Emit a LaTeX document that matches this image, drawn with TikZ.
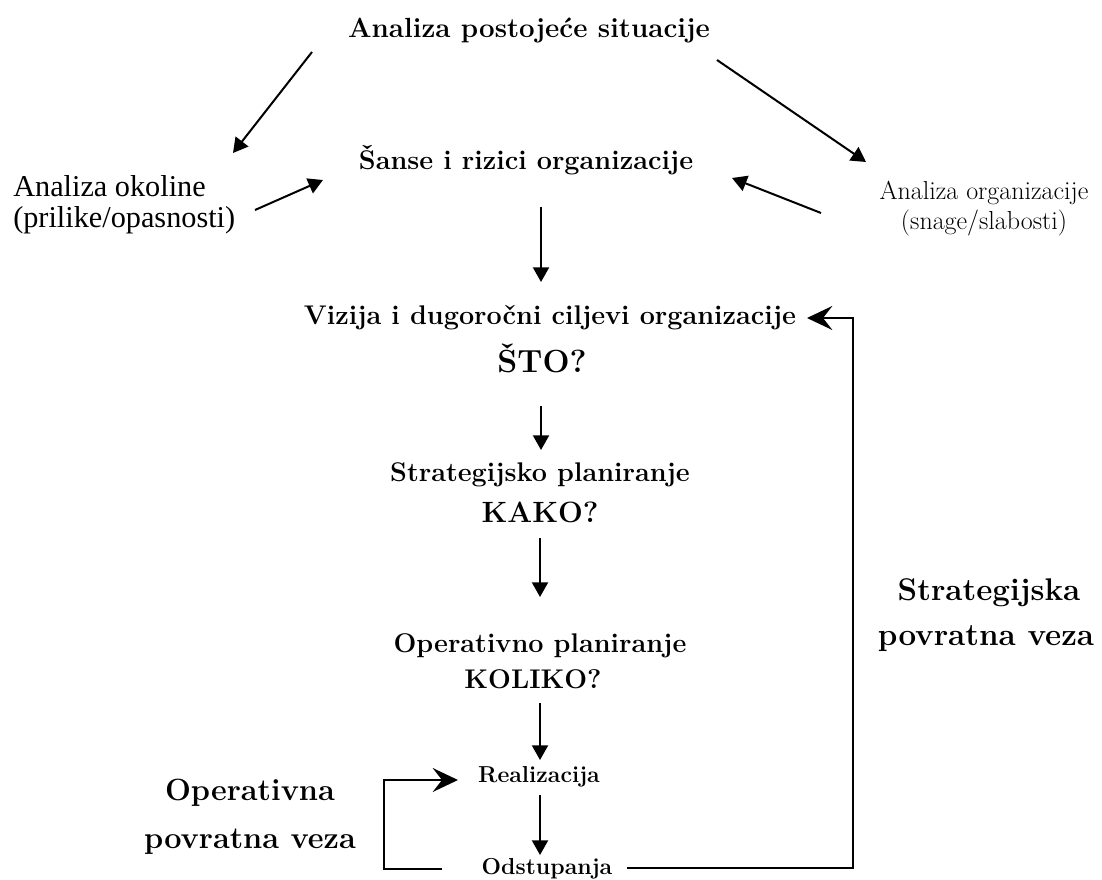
\documentclass[tikz,border=0pt]{standalone}
\usepackage{fontspec}
\newfontfamily\timesfam{Liberation Serif}
\usetikzlibrary{arrows.meta,calc}
\newcommand{\fsz}[1]{\fontsize{#1}{1.2\dimexpr#1\relax}\selectfont}
\begin{document}
\begin{tikzpicture}[x=0.75pt,y=-0.75pt,
  lbl/.style={inner sep=0pt,anchor=base},
  bodyb/.style={lbl,font=\fsz{20.25pt}\bfseries},
  titleb/.style={lbl,font=\fsz{20.8pt}\bfseries},
  stob/.style={lbl,font=\fsz{24pt}\bfseries},
  kakob/.style={lbl,font=\fsz{22pt}\bfseries},
  smallb/.style={lbl,font=\fsz{17.3pt}\bfseries},
  regl/.style={lbl,font=\timesfam\fsz{22.7pt}},
  smallr/.style={lbl,font=\fsz{19.5pt}},
  sfbl/.style={lbl,font=\fsz{23.5pt}\bfseries},
  ofbl/.style={lbl,font=\fsz{23pt}\bfseries},
  arr/.style={line width=1.5pt,-{Triangle[length=11pt,width=12pt]}},
  fb/.style={line width=1.5pt,-{Stealth[length=19pt,width=18pt,inset=7pt]}}]
\useasboundingbox (0,0) rectangle (1102,880);
\fill[white] (0,0) rectangle (1102,880);

% nodes
\node[titleb] (title) at (529,38) {Analiza postojeće situacije};
\node[bodyb] (sanse) at (526,170) {Šanse i rizici organizacije};
\node[regl,anchor=base west] (okol1) at (13,197) {Analiza okoline};
\node[regl,anchor=base west] (okol2) at (13,228) {(prilike/opasnosti)};
\node[smallr] (org1) at (984,200) {Analiza organizacije};
\node[smallr] (org2) at (984,230) {(snage/slabosti)};
\node[bodyb] (vizija) at (550,325) {Vizija i dugoročni ciljevi organizacije};
\node[stob] (sto) at (542,372) {ŠTO?};
\node[bodyb] (strat) at (540,481) {Strategijsko planiranje};
\node[kakob] (kako) at (540,522) {KAKO?};
\node[bodyb] (oper) at (540,652) {Operativno planiranje};
\node[bodyb] (koliko) at (533,688) {KOLIKO?};
\node[smallb] (real) at (539,782) {Realizacija};
\node[smallb] (odst) at (547,874) {Odstupanja};
\node[sfbl] (sfb1) at (989,600) {Strategijska};
\node[sfbl] (sfb2) at (986,645) {povratna veza};
\node[ofbl] (ofb1) at (250,800) {Operativna};
\node[ofbl] (ofb2) at (250,848) {povratna veza};

\coordinate (sfbc) at (853,868);
\coordinate (ofbc) at (384,869);

% connectors
\draw[arr] ($(title.base)+(-217,14)$) -- ($(okol1.base west)+(220,-44)$);
\draw[arr] ($(title.base)+(188,22)$) -- ($(org1.base)+(-118,-38)$);
\draw[arr] ($(okol1.base west)+(242,13)$) -- ($(sanse.base)+(-203,10)$);
\draw[arr] ($(org1.base)+(-163,13)$) -- ($(sanse.base)+(206,8)$);
\draw[arr] ($(sanse.base)+(15,37)$) -- ($(vizija.base)+(-9,-43)$);
\draw[arr] ($(sto.base)+(-1,34)$) -- ($(strat.base)+(1,-31)$);
\draw[arr] ($(kako.base)+(0,16)$) -- ($(oper.base)+(0,-55)$);
\draw[arr] ($(koliko.base)+(7,15)$) -- ($(real.base)+(1,-22)$);
\draw[arr] ($(real.base)+(1,13)$) -- ($(odst.base)+(-7,-19)$);
\draw[fb] ($(odst.base)+(80,-6)$) -- (sfbc) |- ($(vizija.base)+(257,-7)$);
\draw[fb] ($(odst.base)+(-105,-5)$) -- (ofbc) |- ($(real.base)+(-81,-2)$);
\end{tikzpicture}
\end{document}
